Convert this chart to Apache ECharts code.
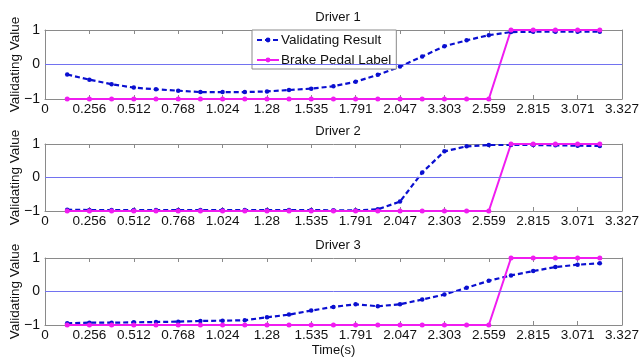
<!DOCTYPE html>
<html>
<head>
<meta charset="utf-8">
<script src="https://cdn.jsdelivr.net/npm/echarts@6/dist/echarts.min.js"></script>
<style>
  html, body { margin: 0; padding: 0; background: #fff; }
  #chart { width: 639px; height: 358px; }
</style>
</head>
<body>
<div id="chart"></div>
<script>
// sample times (s)
const timeS = [0.128, 0.256, 0.384, 0.512, 0.640, 0.768, 0.896, 1.024, 1.152, 1.280,
               1.407, 1.535, 1.663, 1.791, 1.919, 2.047, 2.175, 2.303, 2.431, 2.559,
               2.687, 2.815, 2.943, 3.071, 3.199];

// validating result per driver
const driver1 = [-0.29, -0.44, -0.57, -0.67, -0.72, -0.76, -0.80, -0.80, -0.80, -0.78,
                 -0.74, -0.70, -0.63, -0.50, -0.30, -0.06, 0.23, 0.53, 0.70, 0.85,
                 0.94, 0.95, 0.95, 0.95, 0.95];
const driver2 = [-0.96, -0.97, -0.97, -0.97, -0.97, -0.97, -0.97, -0.97, -0.97, -0.97,
                 -0.97, -0.97, -0.98, -0.98, -0.95, -0.72, 0.15, 0.78, 0.93, 0.97,
                 0.97, 0.97, 0.96, 0.95, 0.94];
const driver3 = [-0.95, -0.93, -0.93, -0.92, -0.91, -0.90, -0.88, -0.87, -0.86, -0.77,
                 -0.69, -0.57, -0.46, -0.38, -0.44, -0.38, -0.24, -0.09, 0.11, 0.32,
                 0.48, 0.61, 0.73, 0.80, 0.84];

// brake pedal label (same for all drivers)
const brakeLabel = [-1, -1, -1, -1, -1, -1, -1, -1, -1, -1,
                    -1, -1, -1, -1, -1, -1, -1, -1, -1, -1,
                    1, 1, 1, 1, 1];

// tick labels (the first plot really says 3.303)
const xLabels1 = ['0', '0.256', '0.512', '0.768', '1.024', '1.28', '1.535', '1.791', '2.047', '3.303', '2.559', '2.815', '3.071', '3.327'];
const xLabels2 = ['0', '0.256', '0.512', '0.768', '1.024', '1.28', '1.535', '1.791', '2.047', '2.303', '2.559', '2.815', '3.071', '3.327'];
const yTicks = { '-1': '\u22121', '0': '0', '1': '1' };
const titles = ['Driver 1', 'Driver 2', 'Driver 3'];

const X_MAX = 3.327;
const X_STEP = 3.327 / 13;

const FONT = 'Liberation Sans, Arial, sans-serif';
const BLUE = '#0a0fd0';
const PINK = '#f01cf0';
const FRAME = '#8a8a8a';

const gridTops = [30, 144, 258];
const gridH = [69, 67, 67];

let grid = [], xAxis = [], yAxis = [], series = [], title = [];
const drivers = [driver1, driver2, driver3];

drivers.forEach((vals, i) => {
    grid.push({
        left: 45, right: 17, top: gridTops[i], height: gridH[i],
        containLabel: false, outerBoundsMode: 'none'
    });
    title.push({
        text: titles[i], left: 333, top: gridTops[i] - 24, textAlign: 'center',
        textStyle: { fontFamily: FONT, fontSize: 13, fontWeight: 'normal', color: '#111' }
    });
    const labels = i === 0 ? xLabels1 : xLabels2;
    // bottom axis
    xAxis.push({
        type: 'value', gridIndex: i, min: 0, max: X_MAX, interval: X_STEP,
        position: 'bottom',
        name: i === 2 ? 'Time(s)' : '', nameLocation: 'middle', nameGap: 19,
        nameTextStyle: { fontFamily: FONT, fontSize: 13, color: '#111' },
        axisLine: { show: true, onZero: false, lineStyle: { color: FRAME, width: 1 } },
        axisTick: { show: true, inside: true, length: 4, lineStyle: { color: FRAME } },
        splitLine: { show: false },
        axisLabel: {
            fontFamily: FONT, fontSize: 13.5, color: '#111', margin: 3,
            showMinLabel: true, showMaxLabel: true,
            formatter: v => labels[Math.round(v / X_STEP)]
        }
    });
    // top axis (frame + ticks only)
    xAxis.push({
        type: 'value', gridIndex: i, min: 0, max: X_MAX, interval: X_STEP,
        position: 'top',
        axisLine: { show: true, onZero: false, lineStyle: { color: FRAME, width: 1 } },
        axisTick: { show: true, inside: true, length: 4, lineStyle: { color: FRAME } },
        splitLine: { show: false },
        axisLabel: { show: false }
    });
    yAxis.push({
        type: 'value', gridIndex: i, min: -1, max: 1, interval: 1,
        name: 'Validating Value', nameLocation: 'middle', nameGap: 23, nameRotate: 90,
        nameMoveOverlap: false,
        nameTextStyle: { fontFamily: FONT, fontSize: 13.5, color: '#111' },
        axisLine: { show: true, onZero: false, lineStyle: { color: FRAME, width: 1 } },
        axisTick: { show: true, inside: true, length: 4, lineStyle: { color: FRAME } },
        splitLine: { show: false },
        axisLabel: {
            fontFamily: FONT, fontSize: 14, color: '#111', margin: 5,
            formatter: v => yTicks[String(Math.round(v))]
        }
    });
    yAxis.push({
        type: 'value', gridIndex: i, min: -1, max: 1, interval: 1, position: 'right',
        axisLine: { show: true, onZero: false, lineStyle: { color: FRAME, width: 1 } },
        axisTick: { show: true, inside: true, length: 4, lineStyle: { color: FRAME } },
        splitLine: { show: false },
        axisLabel: { show: false }
    });

    series.push({
        name: 'Validating Result', type: 'line', xAxisIndex: i * 2, yAxisIndex: i * 2,
        data: timeS.map((t, k) => [t, vals[k]]),
        symbol: 'circle', symbolSize: 4.5,
        lineStyle: { color: BLUE, width: 2.2, type: [5, 3] },
        itemStyle: { color: BLUE },
        animation: false,
        markLine: {
            silent: true, symbol: 'none', label: { show: false },
            lineStyle: { color: '#7272f0', width: 1, type: 'solid' },
            data: [{ yAxis: 0 }]
        }
    });
    series.push({
        name: 'Brake Pedal Label', type: 'line', xAxisIndex: i * 2, yAxisIndex: i * 2,
        data: timeS.map((t, k) => [t, brakeLabel[k]]),
        symbol: 'circle', symbolSize: 5,
        lineStyle: { color: PINK, width: 2 },
        itemStyle: { color: PINK },
        animation: false
    });
});

const chart = echarts.init(document.getElementById('chart'), null, { renderer: 'canvas' });
chart.setOption({
    backgroundColor: '#fff',
    animation: false,
    title: title,
    grid: grid,
    xAxis: xAxis,
    yAxis: yAxis,
    legend: {
        data: ['Validating Result', 'Brake Pedal Label'],
        orient: 'vertical', left: 252, top: 30,
        padding: [3, 5, 2, 4], itemGap: 6, itemWidth: 22, itemHeight: 6,
        backgroundColor: '#fff', borderColor: FRAME, borderWidth: 1,
        textStyle: { fontFamily: FONT, fontSize: 13.5, color: '#111', padding: [0, 0, 0, -3] }
    },
    series: series
});
</script>
</body>
</html>
